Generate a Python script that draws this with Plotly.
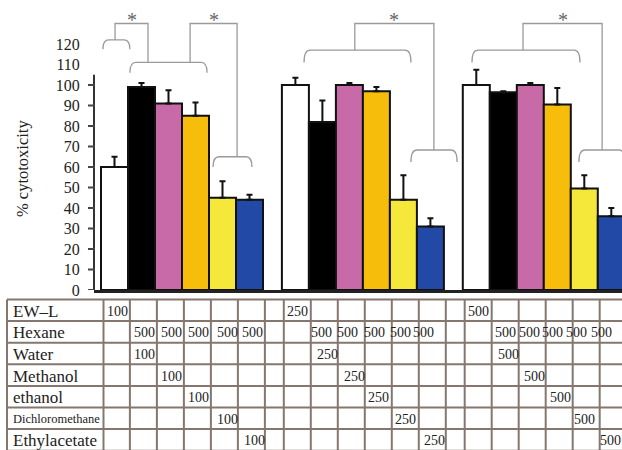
import plotly.graph_objects as go

# ---------------- data ----------------
treatments = ["EW-L", "Hexane+Water", "Hexane+Methanol", "Hexane+ethanol",
              "Hexane+Dichloromethane", "Hexane+Ethylacetate"]
white_vals = [60, 100, 100]
black_vals = [99, 82, 96.5]
pink_vals = [91, 100, 100]
orange_vals = [85, 97, 90.5]
yellow_vals = [45, 44, 49.5]
blue_vals = [44, 31, 36]

white_err = [5, 3.5, 7.5]
black_err = [2, 10.5, 0.5]
pink_err = [6.5, 1, 1]
orange_err = [6.5, 2, 8]
yellow_err = [8, 12, 6.5]
blue_err = [2.5, 4, 4]

y_ticks = [0, 10, 20, 30, 40, 50, 60, 70, 80, 90, 100, 110, 120]

row_labels = ["EW\u2013L", "Hexane", "Water", "Methanol", "ethanol",
              "Dichloromethane", "Ethylacetate"]
ewl_dose = [100, 250, 500]
hexane_dose = [500, 500, 500]
extract_dose = [100, 250, 500]

# ---------------- style / layout ----------------
colors = ["#ffffff", "#000000", "#c86aa7", "#f6bd0b", "#f6e83b", "#2349a6"]
GROUP_STEP = 6.7
SERIF = "Liberation Serif, Times New Roman, serif"
GRID = "#85776f"
BRK = "#9a9a9a"
W, H = 622, 450
X_LEFT, Y_BASE = 94, 290          # plot-area left / baseline in pixels
ML, MB = X_LEFT, H - Y_BASE
PH = H - MB                       # plot height in px
PW = W - ML
PX_PER_UNIT = 2.05
BAR_PX = 27                       # pixel width of one bar (one x unit)
# small horizontal nudges (in px) of the table labels, per group, per column
HEX_NUDGE = [[0, 0, 0, 2, 0], [-3, -4, -4, -5, -9], [0, -3, -7, -10, -12]]
EXT_NUDGE = [[0, 0, 0, 2, 2], [3, 3, 0, 0, 2], [3, 2, 1, -2, -3]]


def py(p):           # pixel y -> paper y
    return (Y_BASE - p) / PH


def px(p):           # pixel x -> paper x
    return (p - X_LEFT) / PW


fig = go.Figure()
series = [white_vals, black_vals, pink_vals, orange_vals, yellow_vals, blue_vals]
errs = [white_err, black_err, pink_err, orange_err, yellow_err, blue_err]
for i, (name, vals, err, col) in enumerate(zip(treatments, series, errs, colors)):
    fig.add_bar(
        x=[g * GROUP_STEP + i for g in range(len(vals))], y=vals, width=1,
        name=name,
        marker=dict(color=col, line=dict(color="#111111", width=2)),
        error_y=dict(type="data", symmetric=False, array=err,
                     arrayminus=[0] * len(err), color="#111111",
                     thickness=2, width=3),
        hoverinfo="skip",
    )

shapes = []
annotations = []

# y axis line and visible ticks (0-100 only)
shapes.append(dict(type="line", xref="paper", yref="y", x0=0, x1=0, y0=0, y1=105,
                   line=dict(color="#333333", width=2)))
for v in y_ticks:
    if v <= 100:
        shapes.append(dict(type="line", xref="paper", yref="y", x0=px(88), x1=px(95),
                           y0=v, y1=v, line=dict(color="#444444", width=2)))


def bracket(x0, x1, ytop, yleg, r=0.22):
    return dict(type="path", xref="x", yref="y",
                path=(f"M {x0},{yleg} Q {x0},{ytop} {x0 + r},{ytop} "
                      f"L {x1 - r},{ytop} Q {x1},{ytop} {x1},{yleg}"),
                line=dict(color=BRK, width=1.3))


def connector(xa, ya, xb, yb, ytop=130):
    return dict(type="path", xref="x", yref="y",
                path=f"M {xa},{ya} L {xa},{ytop} L {xb},{ytop} L {xb},{yb}",
                line=dict(color=BRK, width=1.3))


# group 1
shapes += [bracket(-0.43, 0.57, 122, 117.5),
           bracket(0.57, 3.43, 111, 106),
           bracket(3.65, 5.09, 65, 60),
           connector(0.02, 122, 1.24, 111),
           connector(2.8, 111, 4.54, 65)]
# group 2
shapes += [bracket(7.02, 10.98, 117, 111),
           bracket(10.98, 12.69, 68.3, 62.5),
           connector(8.9, 117, 11.83, 68.3)]
# group 3
shapes += [bracket(13.24, 17.24, 117, 111),
           bracket(17.2, 18.9, 68.3, 62.5),
           connector(15.13, 117, 18.06, 68.3)]

for xs in [(0.02 + 1.24) / 2, (2.8 + 4.54) / 2, (8.9 + 11.83) / 2, (15.13 + 18.06) / 2]:
    annotations.append(dict(x=xs, y=py(20), xref="x", yref="paper", text="*",
                            showarrow=False, font=dict(family=SERIF, size=20, color="#666666"),
                            xanchor="center", yanchor="middle"))

# ---------------- table ----------------
TOP, RH = 299.5, 21.6
n_rows = len(row_labels)
for r in range(n_rows + 1):
    yy = py(TOP + r * RH)
    shapes.append(dict(type="line", xref="paper", yref="paper", x0=px(7), x1=1,
                       y0=yy, y1=yy, line=dict(color=GRID, width=2)))
for xv in [7, 103.5]:
    shapes.append(dict(type="line", xref="paper", yref="paper", x0=px(xv), x1=px(xv),
                       y0=py(TOP), y1=py(455), line=dict(color=GRID, width=2)))
OFF = 0.07
for g in range(3):
    for c in range(7):
        if g == 0 and c == 0:
            continue
        xe = g * GROUP_STEP + c - 0.5 + OFF
        shapes.append(dict(type="line", xref="x", yref="paper", x0=xe, x1=xe,
                           y0=py(TOP), y1=py(455), line=dict(color=GRID, width=2)))

for r, lab in enumerate(row_labels):
    small = lab == "Dichloromethane"
    annotations.append(dict(x=px(11), y=py(TOP + (r + 0.5) * RH + 1), xref="paper", yref="paper",
                            text=lab, showarrow=False, xanchor="left", yanchor="middle",
                            font=dict(family=SERIF, size=12.5 if small else 17, color="#222222")))


def cell_text(g, c, r, val, nudge_px=0):
    xl = g * GROUP_STEP + c - 0.5 + OFF + 0.06 + nudge_px / BAR_PX
    return dict(x=xl, y=py(TOP + (r + 0.5) * RH + 1), xref="x", yref="paper", text=str(val),
                showarrow=False, xanchor="left", yanchor="middle",
                font=dict(family=SERIF, size=14, color="#222222"))


for g in range(3):
    annotations.append(cell_text(g, 0, 0, ewl_dose[g]))
    for c in range(1, 6):
        annotations.append(cell_text(g, c, 1, hexane_dose[g], HEX_NUDGE[g][c - 1]))
    for r in range(2, n_rows):
        annotations.append(cell_text(g, r - 1, r, extract_dose[g], EXT_NUDGE[g][r - 2]))

# y title
annotations.append(dict(x=px(23), y=py(169), xref="paper", yref="paper",
                        text="% cytotoxicity", textangle=-90, showarrow=False,
                        font=dict(family=SERIF, size=16.5, color="#222222"),
                        xanchor="center", yanchor="middle"))

fig.update_layout(
    width=W, height=H,
    margin=dict(l=ML, r=0, t=0, b=MB, pad=0),
    barmode="overlay",
    showlegend=False,
    hovermode=False,
    plot_bgcolor="white", paper_bgcolor="white",
    xaxis=dict(range=[(X_LEFT - 114.5) / BAR_PX, (622 - 114.5) / BAR_PX], showgrid=False,
               zeroline=False, showticklabels=False, ticks="", showline=True,
               linecolor="#222222", linewidth=3),
    yaxis=dict(range=[0, PH / PX_PER_UNIT], tickvals=y_ticks, showgrid=False, zeroline=False,
               showline=False, ticks="outside", ticklen=10, tickcolor="rgba(0,0,0,0)",
               tickfont=dict(family=SERIF, size=16, color="#222222")),
    shapes=shapes,
    annotations=annotations,
)

# remove the default 8px page margin so the 622x450 figure fills the window exactly
fig.write_html("out.html", config={"displayModeBar": False},
               post_script="document.body.style.margin='0px';document.body.style.overflow='hidden';")
